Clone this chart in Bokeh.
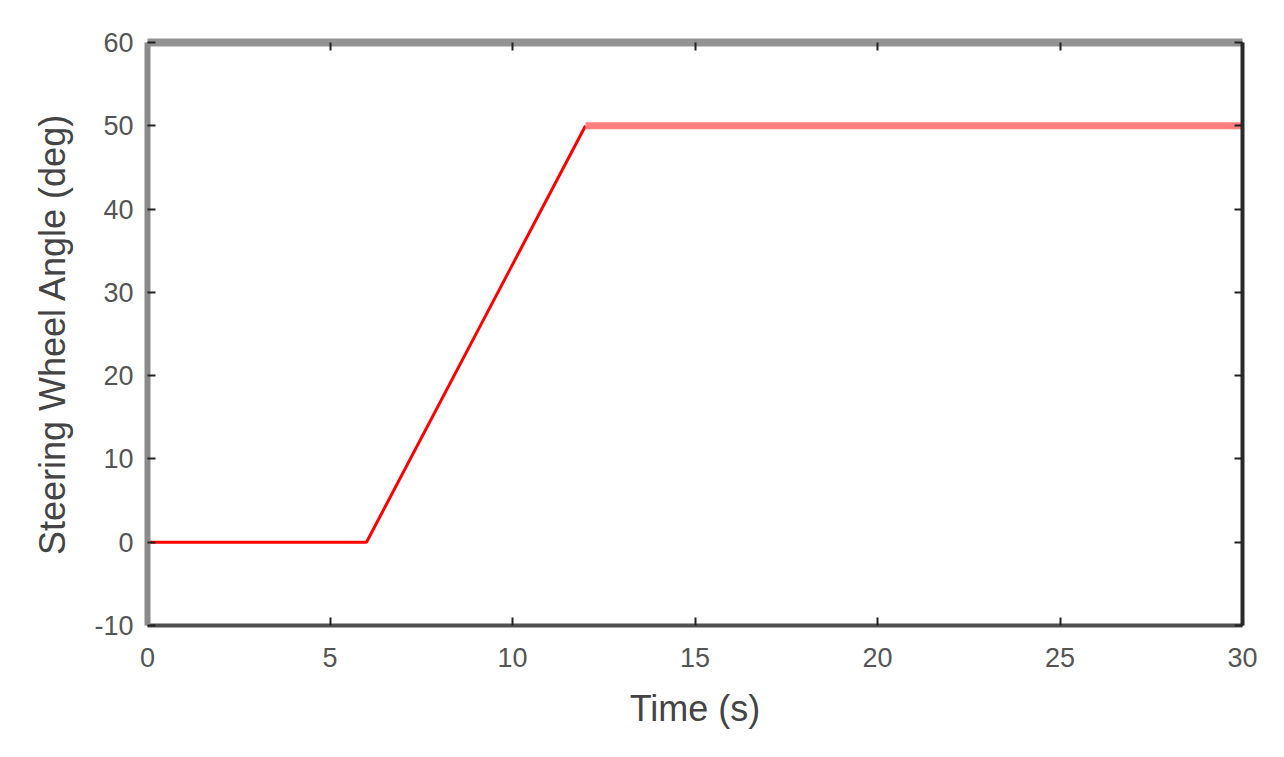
from bokeh.plotting import figure
from bokeh.models import LinearAxis, Range1d, FixedTicker, CustomJSTickFormatter
from bokeh.embed import file_html
from bokeh.resources import INLINE

# Data
ramp_time = [0, 6, 12]
ramp_angle = [0, 0, 50]
hold_time = [12, 30]
hold_angle = [50, 50]
x_ticks = [0, 5, 10, 15, 20, 25, 30]
y_ticks = [-10, 0, 10, 20, 30, 40, 50, 60]
y_tick_labels = {t: str(t) for t in y_ticks}

p = figure(width=1270, height=740, output_backend="svg", toolbar_location=None,
           x_range=Range1d(0, 30), y_range=Range1d(-10, 60),
           min_border_left=147, min_border_right=28, min_border_top=42, min_border_bottom=115)
p.grid.visible = False
p.outline_line_color = None
p.background_fill_color = "white"
p.border_fill_color = "white"

p.line(ramp_time, ramp_angle, line_color="#ff0000", line_width=3)
p.line(hold_time, hold_angle, line_color="#ff7f7f", line_width=7)

FONT = "Liberation Sans"

def style(ax, color, width):
    ax.axis_line_color = color
    ax.axis_line_width = width
    ax.major_tick_in = 8
    ax.major_tick_out = 0
    ax.major_tick_line_color = "#222222"
    ax.major_tick_line_width = 2
    ax.minor_tick_line_color = None
    ax.major_label_text_font = FONT
    ax.major_label_text_font_size = "27px"
    ax.major_label_text_color = "#555555"
    ax.axis_label_text_font = FONT
    ax.axis_label_text_font_size = "36px"
    ax.axis_label_text_font_style = "normal"
    ax.axis_label_text_color = "#444444"

xa = p.xaxis[0]
xa.ticker = FixedTicker(ticks=x_ticks)
xa.axis_label = "Time (s)"
style(xa, "#505050", 4)
xa.major_label_standoff = 22
xa.axis_label_standoff = 18

ya = p.yaxis[0]
ya.ticker = FixedTicker(ticks=y_ticks)
ya.major_label_overrides = y_tick_labels
ya.axis_label = "Steering Wheel Angle (deg)"
style(ya, "#8a8a8a", 6)
ya.major_label_standoff = 14
ya.axis_label_standoff = 18

blank = CustomJSTickFormatter(code="return '';")

top = LinearAxis(ticker=FixedTicker(ticks=x_ticks), formatter=blank)
style(top, "#939393", 8)
top.major_label_standoff = 0
p.add_layout(top, "above")

right = LinearAxis(ticker=FixedTicker(ticks=y_ticks), formatter=blank)
style(right, "#2a2a2a", 4)
right.major_label_standoff = 0
p.add_layout(right, "right")

open("out.html", "w").write(file_html(p, INLINE))
